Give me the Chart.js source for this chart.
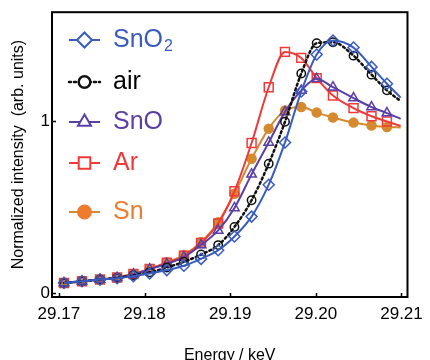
<!DOCTYPE html>
<html><head><meta charset="utf-8">
<script src="https://cdn.jsdelivr.net/npm/chart.js@4.4.1/dist/chart.umd.min.js"></script>
<style>html,body{margin:0;padding:0;background:#fff;}#wrap{width:430px;height:360px;}</style>
</head><body><div id="wrap"><canvas id="c" width="430" height="360"></canvas></div>
<script>
// Energy (keV) of each sample; the last entry is the end of the curve (no marker)
const energy = [29.1706, 29.1727, 29.1748, 29.1768, 29.1787, 29.1806, 29.1826, 29.1846, 29.1866, 29.1886,
                29.1905, 29.1925, 29.1945, 29.1964, 29.1983, 29.2001, 29.2020, 29.2044, 29.2065, 29.2083, 29.2099];
const sno2 = [0.06, 0.07, 0.08, 0.088, 0.10, 0.115, 0.135, 0.16, 0.20, 0.25, 0.33, 0.445, 0.63, 0.875, 1.17, 1.385, 1.466, 1.425, 1.313, 1.215, 1.135];
const air  = [0.06, 0.07, 0.08, 0.09, 0.105, 0.122, 0.15, 0.183, 0.225, 0.28, 0.385, 0.54, 0.752, 0.995, 1.275, 1.45, 1.456, 1.378, 1.268, 1.177, 1.115];
const sno  = [0.06, 0.07, 0.08, 0.09, 0.11, 0.14, 0.17, 0.21, 0.28, 0.365, 0.495, 0.69, 0.875, 1.052, 1.176, 1.244, 1.195, 1.132, 1.08, 1.045, 1.012];
const ar   = [0.06, 0.07, 0.08, 0.092, 0.112, 0.142, 0.178, 0.218, 0.292, 0.405, 0.592, 0.872, 1.195, 1.40, 1.365, 1.248, 1.147, 1.074, 1.027, 0.996, 0.97];
const sn   = [0.06, 0.07, 0.08, 0.092, 0.112, 0.142, 0.18, 0.222, 0.298, 0.412, 0.578, 0.78, 0.955, 1.06, 1.08, 1.048, 1.02, 0.99, 0.973, 0.964, 0.962];
const seriesNames = ['SnO2', 'air', 'SnO', 'Ar', 'Sn'];
const xTicks = [29.17, 29.18, 29.19, 29.20, 29.21];
const yTicks = [0, 1];
const xTitle = 'Energy / keV';
const yTitle = 'Normalized intensity  (arb. units)';

const FONT = '"Liberation Sans", Arial, Helvetica, sans-serif';
const styles = [
  {color:'#3a5cc0', legendColor:'#3a5cc0', pointStyle:'rectRot', r:5.5, lr:7.5, fill:'rgba(255,255,255,0)', dash:[]},
  {color:'#111111', legendColor:'#000000', pointStyle:'circle', r:4.2, lr:5.8, fill:'rgba(255,255,255,0)', dash:[2,3]},
  {color:'#5a3fa6', legendColor:'#5a3fa6', pointStyle:'triangle', r:5.5, lr:7.5, fill:'rgba(255,255,255,0)', dash:[]},
  {color:'#f03a3a', legendColor:'#f03a3a', pointStyle:'rect', r:6.3, lr:8.2, fill:'rgba(255,255,255,0)', dash:[]},
  {color:'#d68a2e', legendColor:'#ec7d2f', pointStyle:'circle', r:4.5, lr:6.5, fill:'#d68a2e', dash:[]}
];
const values = [sno2, air, sno, ar, sn];
const last = energy.length - 1;

const datasets = values.map((vals, i) => {
  const s = styles[i];
  return {
    label: seriesNames[i],
    data: energy.map((e, k) => ({x: e, y: vals[k]})),
    borderColor: s.color,
    borderWidth: i === 1 ? 2.5 : 2,
    borderDash: s.dash,
    borderCapStyle: i === 1 ? 'round' : 'butt',
    pointStyle: s.pointStyle,
    pointRadius: energy.map((e, k) => k === last ? 0 : s.r),
    pointBorderColor: s.color,
    pointBackgroundColor: s.fill,
    pointBorderWidth: 1.5,
    cubicInterpolationMode: 'monotone',
    fill: false
  };
});

const framePlugin = {
  id: 'frame',
  afterDraw(chart) {
    const ctx = chart.ctx;
    const {left, right, top, bottom} = chart.chartArea;
    ctx.save();
    ctx.strokeStyle = '#000';
    ctx.lineWidth = 2;
    ctx.strokeRect(left, top, right - left, bottom - top);
    ctx.lineWidth = 1.5;
    const xs = chart.scales.x, ys = chart.scales.y;
    xTicks.forEach(v => {
      const px = Math.round(xs.getPixelForValue(v)) + 0.5;
      ctx.beginPath(); ctx.moveTo(px, bottom); ctx.lineTo(px, bottom - 4); ctx.stroke();
    });
    yTicks.forEach(v => {
      const py = Math.round(ys.getPixelForValue(v)) + 0.5;
      ctx.beginPath(); ctx.moveTo(left, py); ctx.lineTo(left + 4, py); ctx.stroke();
    });
    ctx.restore();
  }
};

const legendPlugin = {
  id: 'inLegend',
  afterDraw(chart) {
    const ctx = chart.ctx;
    const rows = [40, 82, 122, 163, 212];
    chart.data.datasets.forEach((ds, i) => {
      const s = styles[i];
      const y = rows[i];
      ctx.save();
      ctx.strokeStyle = s.color;
      ctx.lineWidth = i === 1 ? 2.5 : 2;
      ctx.lineCap = i === 1 ? 'round' : 'butt';
      ctx.setLineDash(s.dash);
      ctx.beginPath(); ctx.moveTo(69, y); ctx.lineTo(100, y); ctx.stroke();
      ctx.setLineDash([]);
      ctx.fillStyle = i === 4 ? s.legendColor : '#ffffff';
      ctx.strokeStyle = i === 4 ? s.legendColor : s.color;
      Chart.helpers.drawPoint(ctx, {pointStyle: s.pointStyle, radius: s.lr, borderWidth: 1.5, rotation: 0}, 84.5, y);
      ctx.fillStyle = s.legendColor;
      ctx.textBaseline = 'middle';
      ctx.textAlign = 'left';
      ctx.font = '25px ' + FONT;
      const name = ds.label;
      if (name === 'SnO2') {
        ctx.fillText('SnO', 113, y);
        const w = ctx.measureText('SnO').width;
        ctx.font = '16px ' + FONT;
        ctx.fillText('2', 113 + w + 1, y + 7);
      } else {
        ctx.fillText(name, 113, y);
      }
      ctx.restore();
    });
  }
};

new Chart(document.getElementById('c'), {
  type: 'line',
  data: {datasets},
  options: {
    responsive: false,
    animation: false,
    devicePixelRatio: 1,
    layout: {padding: {top: 12, right: 14, left: 0, bottom: 0}},
    plugins: {legend: {display: false}, tooltip: {enabled: false}},
    scales: {
      x: {
        type: 'linear',
        min: 29.1692, max: 29.2107,
        afterBuildTicks: sc => { sc.ticks = xTicks.map(v => ({value: v})); },
        afterFit: sc => { sc.height = 63; },
        grid: {display: false, drawTicks: false},
        border: {display: false},
        ticks: {
          autoSkip: false, maxRotation: 0, padding: 7, color: '#000',
          font: {family: FONT, size: 17},
          callback: v => Number(v).toFixed(2)
        },
        title: {display: true, text: xTitle, color: '#000', font: {family: FONT, size: 16, lineHeight: 1}, padding: {top: 0, bottom: -4}}
      },
      y: {
        type: 'linear',
        min: -0.021, max: 1.63,
        afterBuildTicks: sc => { sc.ticks = yTicks.map(v => ({value: v})); },
        afterFit: sc => { sc.width = 52; },
        grid: {display: false, drawTicks: false},
        border: {display: false},
        ticks: {padding: 2, color: '#000', font: {family: FONT, size: 17}, callback: v => String(v)},
        title: {display: true, text: yTitle, color: '#000', font: {family: FONT, size: 16, lineHeight: 1}, padding: {top: 11, bottom: 0}}
      }
    }
  },
  plugins: [framePlugin, legendPlugin]
});
</script>
</body></html>
